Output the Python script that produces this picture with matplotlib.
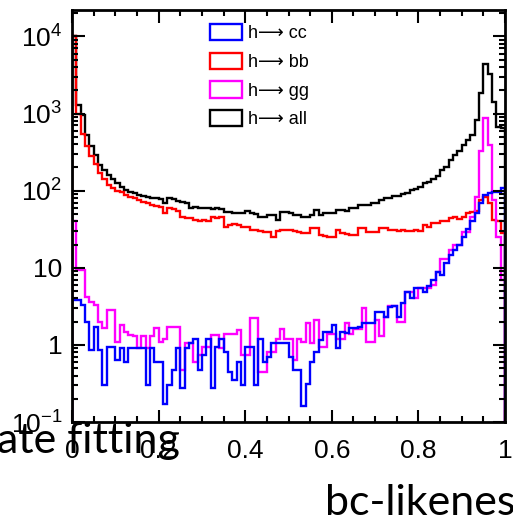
import numpy as np
import matplotlib
matplotlib.use("Agg")
import matplotlib.pyplot as plt
from matplotlib.patches import Patch
from matplotlib.ticker import LogLocator, MultipleLocator, NullFormatter

plt.rcParams['font.family'] = ['Liberation Sans', 'DejaVu Sans']
plt.rcParams['mathtext.fontset'] = 'custom'
plt.rcParams['mathtext.rm'] = 'Liberation Sans'
plt.rcParams['mathtext.it'] = 'Liberation Sans'

# --- datos: 100 bins entre 0 y 1 ---
edges = np.linspace(0, 1, 101)

h_all = [10000, 1290, 950, 520, 380, 290, 215, 185, 158, 141,
         125, 112, 103, 96, 92, 88, 85, 83, 81, 80,
         79, 70, 80, 77, 74, 72, 69, 60, 62, 60,
         59, 60, 58, 59, 57, 53, 53, 51, 52, 51,
         54, 52, 50, 45, 46, 48, 48, 42, 53, 53,
         52, 48, 48, 45, 45, 48, 56, 48, 51, 51,
         51, 56, 56, 54, 59, 59, 65, 65, 65, 69,
         69, 75, 80, 80, 86, 86, 90, 92, 101, 105,
         111, 125, 130, 140, 155, 184, 200, 247, 290, 330,
         390, 450, 520, 815, 1870, 4400, 3300, 1400, 660, 640]

h_bb = [10000, 1000, 550, 380, 280, 220, 170, 140, 120, 108,
        100, 95, 88, 82, 80, 76, 72, 70, 66, 64,
        62, 52, 60, 58, 54, 46, 44, 44, 42, 41,
        42, 41, 45, 44, 45, 34, 36, 37, 36, 34,
        34, 31, 31, 30, 29, 29, 25, 30, 31, 31,
        31, 30, 29, 28, 28, 33, 33, 26.5, 26, 25,
        25, 31, 28, 27, 26.5, 26.5, 33, 33, 29, 29,
        29, 33, 33, 31, 31, 30, 31, 30, 30, 31,
        30, 36, 34, 38, 38, 40, 41, 44, 45, 43,
        45, 51, 53, 55, 75, 82, 69, 42, 41, 28]

h_gg = [41, 9.3, 9.3, 4.2, 3.6, 3.3, 2.0, 1.65, 2.8, 2.8,
        1.1, 1.8, 1.47, 1.34, 1.3, 0.9, 1.3, 0.9, 1.3, 1.65,
        1.1, 1.2, 1.7, 1.7, 1.7, 0.47, 1.05, 1.05, 0.6, 0.75,
        0.95, 0.95, 1.34, 1.34, 0.9, 1.4, 1.4, 1.4, 1.55, 0.75,
        0.75, 2.2, 2.2, 0.45, 0.45, 0.8, 0.8, 1.2, 1.6, 1.2,
        1.2, 0.63, 1.2, 1.1, 1.9, 1.05, 2.1, 0.93, 0.93, 1.4,
        1.4, 1.2, 1.2, 1.9, 1.4, 1.6, 1.6, 3.0, 1.1, 1.1,
        2.1, 1.3, 2.3, 3.2, 3.2, 2.0, 2.0, 4.8, 4.8, 4.0,
        5.5, 5.5, 5.5, 6.0, 8.8, 13, 13, 17, 20, 20,
        29, 29, 45, 82, 330, 880, 390, 75, 25, 7]

h_cc = [3.8, 3.8, 3.3, 2.0, 0.86, 1.7, 0.86, 0.30, 0.94, 0.94,
        0.64, 0.9, 0.6, 0.9, 0.9, 0.9, 0.9, 0.3, 0.9, 0.6,
        0.6, 0.17, 0.3, 0.47, 0.9, 0.28, 0.9, 1.05, 1.2, 0.47,
        0.75, 1.2, 0.28, 0.95, 1.2, 0.8, 0.45, 0.35, 0.6, 0.3,
        0.95, 0.95, 0.3, 1.2, 0.6, 0.7, 1.05, 1.05, 1.05, 1.05,
        0.7, 0.47, 0.47, 0.16, 0.31, 0.6, 0.8, 1.15, 1.47, 1.47,
        1.8, 0.91, 1.47, 1.42, 1.65, 1.65, 1.7, 1.9, 1.9, 1.9,
        2.65, 2.65, 2.3, 3.1, 3.2, 2.3, 3.5, 4.8, 4.0, 5.5,
        5.5, 4.8, 5.8, 6.9, 8.8, 8.0, 11.5, 14.6, 17, 19.5,
        25, 32, 40, 51, 69, 88, 92, 95, 97, 107]

labels = ['h\u27f6 cc', 'h\u27f6 bb', 'h\u27f6 gg', 'h\u27f6 all']
colores = ['#0000ff', '#ff0000', '#ff00ff', 'black']

fig = plt.figure(figsize=(5.13, 5.21), dpi=100)
ax = fig.add_axes([72/513, 1 - 422/521, 433/513, 412/521])

lw = 1.7
# orden de dibujo: all, bb, gg, cc (cc arriba de todo)
for vals, c in [(h_all, colores[3]), (h_bb, colores[1]), (h_gg, colores[2]), (h_cc, colores[0])]:
    ax.stairs(vals, edges, baseline=1e-4, color=c, lw=lw)

ax.set_yscale('log')
ax.set_xlim(0, 1)
ax.set_ylim(0.1, 2.2e4)

ax.set_yticks([0.1, 1, 10, 100, 1000, 10000],
              ['$\\mathregular{10^{-1}}$', '1', '10', '$\\mathregular{10^{2}}$',
               '$\\mathregular{10^{3}}$', '$\\mathregular{10^{4}}$'])
ax.yaxis.set_minor_locator(LogLocator(base=10, subs=np.arange(2, 10), numticks=20))
ax.yaxis.set_minor_formatter(NullFormatter())
ax.set_xticks([0, 0.2, 0.4, 0.6, 0.8, 1.0], ['0', '0.2', '0.4', '0.6', '0.8', '1'])
ax.xaxis.set_minor_locator(MultipleLocator(0.05))

ax.tick_params(which='both', direction='in', top=True, right=True, width=1.5, labelsize=19)
ax.tick_params(which='major', length=9)
ax.tick_params(which='minor', length=4.5)
ax.tick_params(axis='x', pad=12)
ax.tick_params(axis='y', pad=7)
for sp in ax.spines.values():
    sp.set_linewidth(2)

# leyenda con cajitas (como ROOT)
handles = [Patch(facecolor='white', edgecolor=c, lw=1.7) for c in colores]
leg = ax.legend(handles, labels, loc='upper left',
                bbox_to_anchor=(210/513, 1 - 24/521), bbox_transform=fig.transFigure,
                frameon=False, fontsize=13, handlelength=1.75, handleheight=1.0,
                handletextpad=0.35, labelspacing=0.58, borderpad=0, borderaxespad=0)

# texto de la diapositiva que queda encima
fig.text(-0.005, 1 - 453/521, 'ate fitting', fontsize=31, family='Lato', va='baseline', ha='left')
fig.text(325/513, 1 - 515/521, 'bc-likeness', fontsize=31, family='Lato', va='baseline', ha='left')

fig.savefig('out.png', dpi=100)
